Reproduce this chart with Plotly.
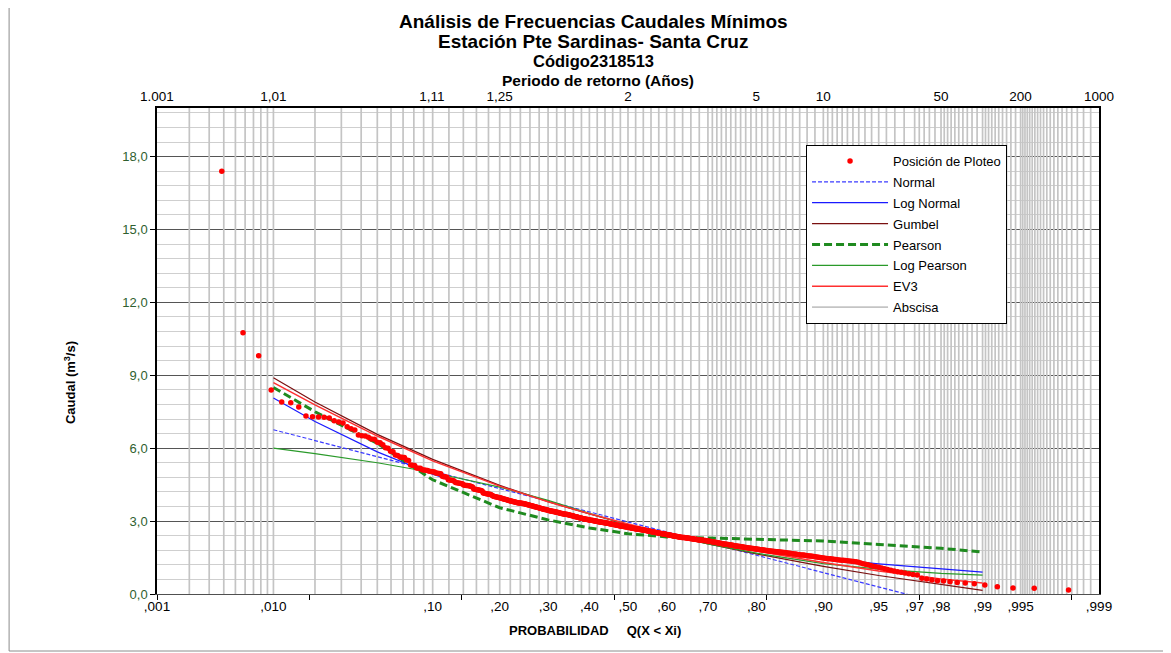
from statistics import NormalDist

import plotly.graph_objects as go

# ---------------------------------------------------------------------------
# Datos
# ---------------------------------------------------------------------------
# Caudales mínimos ordenados de mayor a menor (m3/s). El registro de rango 1
# supera los 20 m3/s y queda fuera de la escala del gráfico.
caudal_ordenado = [
    17.40, 10.75, 9.80, 8.40, 7.90, 7.87, 7.70, 7.33,
    7.29, 7.28, 7.27, 7.24, 7.13, 7.08, 7.04, 6.88, 6.80, 6.75,
    6.54, 6.51, 6.50, 6.45, 6.38, 6.37, 6.24, 6.22, 6.14, 6.02,
    6.00, 5.87, 5.85, 5.72, 5.70, 5.64, 5.63, 5.62, 5.51, 5.49,
    5.31, 5.30, 5.29, 5.19, 5.18, 5.17, 5.11, 5.10, 5.09, 5.08,
    5.05, 5.04, 5.03, 5.02, 4.98, 4.97, 4.96, 4.95, 4.85, 4.83,
    4.82, 4.80, 4.70, 4.69, 4.68, 4.67, 4.65, 4.59, 4.58, 4.57,
    4.56, 4.55, 4.54, 4.49, 4.48, 4.47, 4.46, 4.45, 4.44, 4.42,
    4.40, 4.32, 4.31, 4.30, 4.29, 4.28, 4.27, 4.26, 4.24, 4.16,
    4.15, 4.14, 4.13, 4.12, 4.11, 4.10, 4.08, 4.05, 4.02, 4.01,
    4.00, 3.99, 3.98, 3.97, 3.96,
    3.95, 3.94, 3.92, 3.91, 3.90, 3.89, 3.88, 3.86, 3.85, 3.84,
    3.83, 3.82, 3.81, 3.80, 3.79, 3.78, 3.77, 3.76, 3.75, 3.75,
    3.74, 3.73, 3.72, 3.72, 3.71,
    3.70, 3.69, 3.68, 3.67, 3.66, 3.65, 3.64, 3.63, 3.62, 3.61, 3.60, 3.59, 3.58,
    3.57, 3.56, 3.55, 3.54, 3.53, 3.52, 3.51, 3.50, 3.49, 3.48, 3.48, 3.47, 3.46,
    3.45, 3.44, 3.43, 3.42, 3.42, 3.41, 3.40, 3.39, 3.38, 3.37, 3.36, 3.36, 3.35,
    3.34, 3.33, 3.32, 3.31, 3.31, 3.30, 3.29, 3.29, 3.28, 3.28, 3.27, 3.27, 3.26,
    3.25, 3.24, 3.23, 3.23, 3.22, 3.21, 3.20, 3.19, 3.18, 3.18, 3.17, 3.16, 3.15,
    3.14, 3.13, 3.13, 3.12, 3.11, 3.10, 3.10, 3.09, 3.08, 3.08, 3.07, 3.07, 3.06,
    3.05, 3.04, 3.04, 3.03, 3.02, 3.02, 3.01, 3.00, 3.00, 2.99, 2.99, 2.98, 2.97,
    2.97, 2.96, 2.96, 2.95, 2.95, 2.94, 2.94, 2.93, 2.93, 2.92, 2.92, 2.91, 2.91,
    2.90, 2.89, 2.89, 2.88, 2.88, 2.87, 2.86, 2.86, 2.85, 2.85, 2.84, 2.83, 2.83,
    2.82, 2.81, 2.81, 2.80, 2.80, 2.79, 2.79, 2.78, 2.78, 2.77, 2.77, 2.76, 2.76,
    2.75, 2.74, 2.74, 2.73, 2.73, 2.72, 2.71, 2.71, 2.70, 2.70, 2.69, 2.68, 2.68,
    2.67, 2.67, 2.66, 2.65, 2.65, 2.64, 2.64, 2.63, 2.63, 2.62, 2.62, 2.61, 2.61,
    2.60, 2.59, 2.59, 2.58, 2.58, 2.57, 2.56, 2.56, 2.55, 2.55, 2.54, 2.53, 2.53,
    2.52, 2.52, 2.51, 2.50, 2.50, 2.49, 2.49, 2.48, 2.48, 2.47, 2.47, 2.46, 2.46,
    2.45, 2.44, 2.44, 2.43, 2.43, 2.42, 2.41, 2.41, 2.40, 2.40, 2.39, 2.38, 2.38,
    2.37, 2.37, 2.36, 2.35, 2.35, 2.34, 2.34, 2.33, 2.33, 2.32, 2.32, 2.31, 2.31,
    2.30, 2.30, 2.29, 2.29, 2.28, 2.28, 2.27, 2.27, 2.26, 2.26, 2.25, 2.25, 2.24,
    2.24, 2.23, 2.23, 2.22, 2.22, 2.21, 2.21, 2.21, 2.20, 2.20, 2.20, 2.19, 2.19,
    2.18, 2.17, 2.17, 2.16, 2.16, 2.15, 2.14, 2.14, 2.13, 2.12, 2.12, 2.11, 2.10,
    2.10, 2.09, 2.08, 2.08, 2.07, 2.06, 2.06, 2.05, 2.05, 2.04, 2.04, 2.03, 2.03,
    2.02, 2.01, 2.01, 2.00, 1.99, 1.98, 1.98, 1.97, 1.96, 1.95, 1.95, 1.94, 1.93,
    1.93, 1.92, 1.91, 1.91, 1.90, 1.89, 1.89, 1.88, 1.88, 1.87, 1.87, 1.86, 1.86,
    1.85, 1.84, 1.84, 1.83, 1.82, 1.82, 1.81, 1.81, 1.80, 1.79, 1.79, 1.78, 1.77,
    1.77, 1.76, 1.76, 1.75, 1.75, 1.74, 1.74, 1.73, 1.73, 1.72, 1.72, 1.71, 1.71,
    1.70, 1.69, 1.68, 1.68, 1.67, 1.66, 1.65, 1.65, 1.64, 1.63, 1.62, 1.61, 1.61,
    1.60, 1.59, 1.58, 1.57, 1.56, 1.56, 1.55, 1.54, 1.53, 1.52, 1.51, 1.50, 1.49,
    1.48, 1.47, 1.46, 1.45, 1.45, 1.44, 1.43, 1.42, 1.41, 1.40, 1.39, 1.39, 1.38,
    1.37, 1.36, 1.35, 1.34,
    1.33, 1.31, 1.28, 1.25, 1.22, 1.20, 1.17, 1.14,
    1.12, 1.10, 1.07, 1.04, 1.01, 0.98, 0.95,
    0.92, 0.89, 0.86, 0.83, 0.80, 0.78,
    0.65, 0.62, 0.58, 0.55, 0.53, 0.50, 0.47, 0.45, 0.42, 0.37, 0.30, 0.25, 0.24, 0.16,
]

# Curvas de ajuste evaluadas en probabilidades seleccionadas
prob_ajuste = [0.01, 0.02, 0.05, 0.10, 0.20, 0.30, 0.40, 0.50,
               0.60, 0.70, 0.80, 0.90, 0.95, 0.98, 0.99]
q_normal = [6.76, 6.32, 5.65, 5.06, 4.34, 3.82, 3.38, 2.97,
            2.56, 2.12, 1.60, 0.88, 0.29, -0.38, -0.82]
q_log_normal = [8.07, 7.10, 5.85, 4.93, 4.01, 3.45, 3.03, 2.69,
                2.39, 2.10, 1.81, 1.47, 1.24, 1.02, 0.90]
q_gumbel = [8.90, 7.90, 6.57, 5.54, 4.47, 3.80, 3.29, 2.85,
            2.45, 2.06, 1.65, 1.14, 0.76, 0.38, 0.15]
q_pearson = [8.50, 7.50, 6.20, 4.70, 3.55, 3.05, 2.72, 2.48,
             2.35, 2.30, 2.27, 2.18, 2.04, 1.88, 1.73]
q_log_pearson = [6.00, 5.78, 5.40, 5.00, 4.40, 3.85, 3.32, 2.85,
                 2.44, 2.06, 1.68, 1.25, 1.02, 0.85, 0.78]
q_ev3 = [8.70, 7.78, 6.50, 5.48, 4.44, 3.80, 3.30, 2.88,
         2.50, 2.14, 1.77, 1.30, 0.95, 0.62, 0.45]

# Etiquetas de los ejes
prob_etiquetas = [0.001, 0.01, 0.10, 0.20, 0.30, 0.40, 0.50, 0.60, 0.70,
                  0.80, 0.90, 0.95, 0.97, 0.98, 0.99, 0.995, 0.999]
texto_prob = [",001", ",010", ",10", ",20", ",30", ",40", ",50", ",60", ",70",
              ",80", ",90", ",95", ",97", ",98", ",99", ",995", ",999"]
periodos = [1.001, 1.0101, 1.11, 1.25, 2, 5, 10, 50, 200, 1000]
texto_periodos = ["1.001", "1,01", "1,11", "1,25", "2", "5", "10", "50", "200", "1000"]

Y_MIN, Y_MAX = 0.0, 20.0
P_MIN, P_MAX = 0.001, 0.999

# ---------------------------------------------------------------------------
# Escala de probabilidad normal
# ---------------------------------------------------------------------------
z = NormalDist().inv_cdf

n_registros = len(caudal_ordenado) + 1
prob_ploteo = [m / (n_registros + 1) for m in range(2, n_registros + 1)]

x_min, x_max = z(P_MIN), z(P_MAX)

# Líneas verticales de la "abscisa" (papel probabilístico)
tramos = [(0.001, 0.01, 0.001), (0.01, 0.10, 0.01), (0.10, 0.70, 0.02),
          (0.70, 0.90, 0.01), (0.90, 0.97, 0.005), (0.97, 0.98, 0.002),
          (0.98, 0.99, 0.001), (0.99, 0.995, 0.0005), (0.995, 0.999, 0.0002)]
prob_rejilla = set()
for a, b, paso in tramos:
    for k in range(int(round((b - a) / paso)) + 1):
        prob_rejilla.add(round(a + k * paso, 5))
prob_rejilla = sorted(p for p in prob_rejilla if P_MIN < p < P_MAX)

gx, gy = [], []
for p in prob_rejilla:
    gx += [z(p), z(p), None]
    gy += [Y_MIN, Y_MAX, None]

FUENTE = "Arial, Liberation Sans, sans-serif"

fig = go.Figure()

fig.add_trace(go.Scatter(
    x=gx, y=gy, mode="lines", name="Abscisa",
    line=dict(color="#c4c4c4", width=1.7),
    legendrank=8, legendgroup="g8", hoverinfo="skip",
))

fig.add_trace(go.Scatter(
    x=[z(p) for p in prob_ajuste], y=q_normal, xaxis="x2",
    mode="lines", name="Normal",
    line=dict(color="#3b3bff", width=1.2, dash="4px,2px"),
    legendrank=2, legendgroup="g2",
))

curvas = [
    ("Log Normal", q_log_normal, dict(color="#1a1aff", width=1.2), 3),
    ("Gumbel", q_gumbel, dict(color="#7a1010", width=1.2), 4),
    ("Pearson", q_pearson, dict(color="#1f8a1f", width=3, dash="8px,4px"), 5),
    ("Log Pearson", q_log_pearson, dict(color="#2a9a2a", width=1.2), 6),
    ("EV3", q_ev3, dict(color="#ff3030", width=1.5), 7),
]
for nombre, valores, linea, rango in curvas:
    fig.add_trace(go.Scatter(
        x=[z(p) for p in prob_ajuste], y=valores, xaxis="x3",
        mode="lines", name=nombre, line=linea,
        legendrank=rango, legendgroup=f"g{rango}",
    ))

fig.add_trace(go.Scatter(
    x=[z(p) for p in prob_ploteo], y=caudal_ordenado, xaxis="x3",
    mode="markers", name="Posición de Ploteo",
    marker=dict(color="#ff0000", size=5.5),
    legendrank=1, legendgroup="g1",
))

eje_x_comun = dict(range=[x_min, x_max], showgrid=False, zeroline=False,
                   fixedrange=True)

# La página añade 8 px de margen al cuerpo: los márgenes lo compensan para
# que el área de trazado quede en (157..1099, 108..594) de la ventana.
fig.update_layout(
    width=1171, height=653,
    margin=dict(l=149, r=80, t=100, b=67, autoexpand=False),
    paper_bgcolor="white", plot_bgcolor="white",
    font=dict(family=FUENTE, color="black", size=12),
    separators=",.",
    showlegend=True,
    xaxis=dict(
        **eje_x_comun,
        tickvals=[z(p) for p in prob_etiquetas], ticktext=texto_prob,
        ticks="", showline=True, linecolor="#505050", linewidth=1,
        tickfont=dict(size=13.5, color="black"),
    ),
    xaxis2=dict(
        **eje_x_comun, overlaying="x", side="top", anchor="y",
        tickvals=[z(1 - 1 / t) for t in periodos], ticktext=texto_periodos,
        ticks="", showline=True, linecolor="black", linewidth=1.5,
        tickfont=dict(size=13.5, color="black"),
    ),
    xaxis3=dict(
        **eje_x_comun, overlaying="x", side="bottom", anchor="y",
        tickvals=[x_min + k for k in range(7)], showticklabels=False,
        ticks="outside", ticklen=5, tickcolor="black", showline=False,
    ),
    yaxis=dict(
        range=[Y_MIN, Y_MAX], tickvals=[0, 3, 6, 9, 12, 15, 18],
        tickformat=".1f", ticks="outside", ticklen=5, tickcolor="black",
        showgrid=True, gridcolor="#555555", gridwidth=1,
        minor=dict(dtick=0.6, tick0=0, showgrid=True,
                   gridcolor="#cfcfcf", gridwidth=1),
        showline=True, linecolor="black", linewidth=1.5, mirror=True,
        zeroline=False, fixedrange=True,
        tickfont=dict(size=13, color="#2f5f2f"),
    ),
    legend=dict(
        x=0.689, y=0.924, xanchor="left", yanchor="top",
        bgcolor="white", bordercolor="black", borderwidth=1,
        font=dict(size=13, family=FUENTE), tracegroupgap=1,
        itemwidth=76,
    ),
)

titulos = [
    ("Análisis de Frecuencias Caudales Mínimos", 1.179, 19),
    ("Estación Pte Sardinas- Santa Cruz", 1.137, 19),
    ("Código2318513", 1.097, 16.5),
]
for texto, y, tam in titulos:
    fig.add_annotation(
        text=f"<b>{texto}</b>", xref="paper", yref="paper", x=0.463, y=y,
        showarrow=False, xanchor="center", yanchor="middle",
        font=dict(size=tam, family=FUENTE),
    )

fig.add_annotation(
    text="<b>Periodo de retorno (Años)</b>", xref="paper", yref="paper",
    x=0.468, y=1.056, showarrow=False, xanchor="center", yanchor="middle",
    font=dict(size=15.5, family=FUENTE),
)
fig.add_annotation(
    text="<b>Caudal (m<sup>3</sup>/s)</b>", xref="paper", yref="paper",
    x=-0.0924, y=0.436, showarrow=False, textangle=-90,
    xanchor="center", yanchor="middle", font=dict(size=13, family=FUENTE),
)
fig.add_annotation(
    text="<b>PROBABILIDAD\u00a0\u00a0\u00a0\u00a0\u00a0Q(X < Xi)</b>",
    xref="paper", yref="paper", x=0.465, y=-0.076, showarrow=False,
    xanchor="center", yanchor="middle", font=dict(size=13, family=FUENTE),
)

# Marco exterior del gráfico (izquierda, abajo y derecha)
for x0, x1, y0, y1 in [(-0.157, -0.157, -0.1173, 1.22),
                       (-0.157, 1.0732, -0.1173, -0.1173),
                       (1.0732, 1.0732, -0.1173, 1.22)]:
    fig.add_shape(
        type="line", xref="paper", yref="paper", x0=x0, x1=x1, y0=y0, y1=y1,
        line=dict(color="#8c8c8c", width=1), layer="below",
    )

fig.write_html("out.html")
